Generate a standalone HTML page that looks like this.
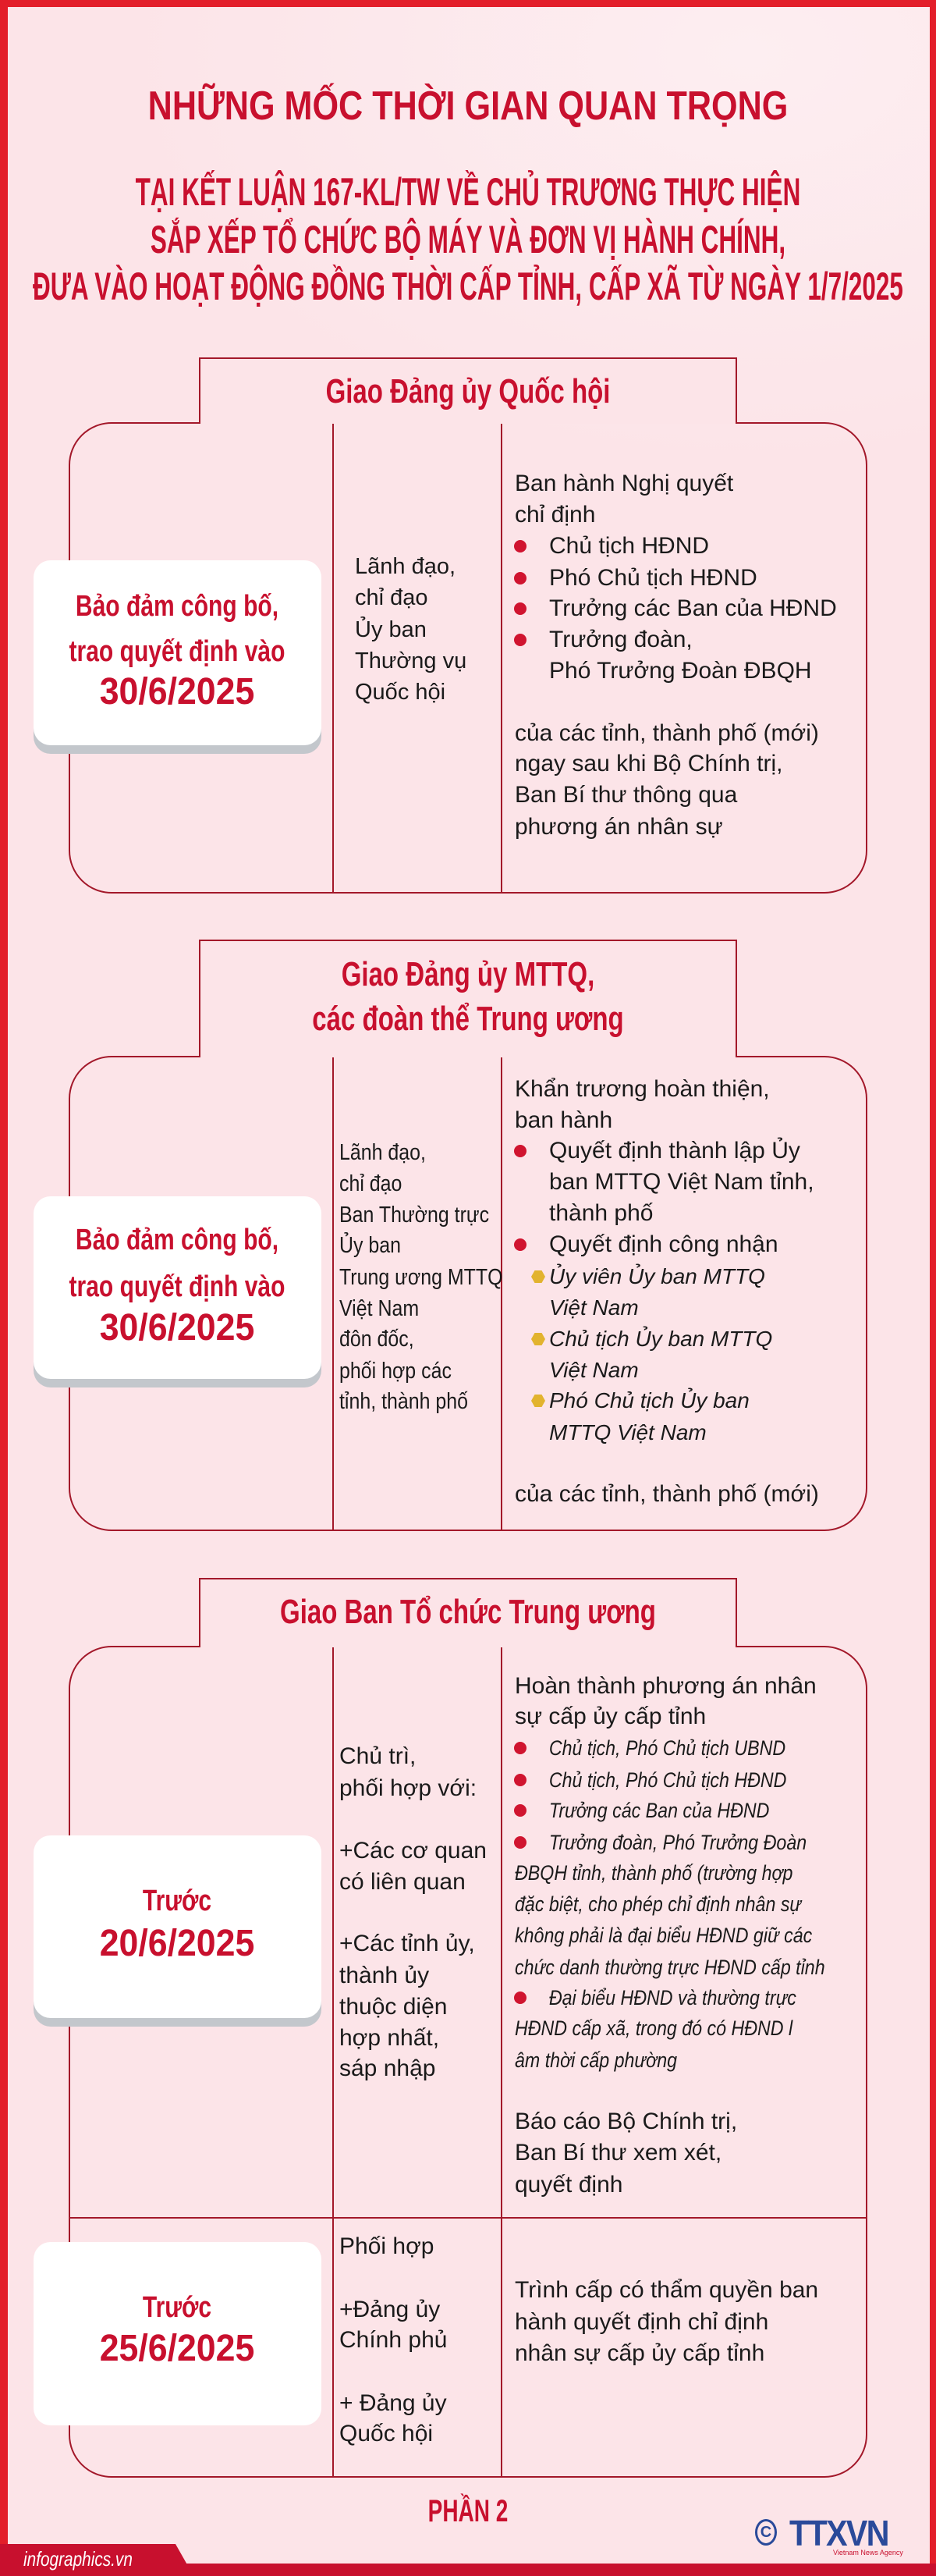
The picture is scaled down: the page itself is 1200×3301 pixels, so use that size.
<!DOCTYPE html>
<html><head><meta charset="utf-8">
<style>
*{margin:0;padding:0;box-sizing:border-box}
body{width:1200px;height:3301px;position:relative;overflow:hidden;background:#fce4e8;font-family:"Liberation Sans",sans-serif;color:#1a1a1a}
.bg{position:absolute;left:0;top:0;width:1200px;height:700px;background:radial-gradient(ellipse at 80% 10%,#fdeef1 0%,rgba(252,228,232,0) 60%)}
.frame{position:absolute;left:0;top:0;width:1200px;height:3301px;border-left:10px solid #e31e2a;border-right:8px solid #e31e2a;border-top:9px solid #e31e2a}
.ab{position:absolute;white-space:nowrap}
.c{position:absolute;white-space:nowrap;transform-origin:0 0}
.red{color:#c8102e;font-weight:bold}
.hdr{position:absolute;left:255px;width:690px;border:2px solid #a3182a;border-bottom:none;background:#fce4e8}
.box{position:absolute;left:88px;width:1024px;border:2px solid #a3182a;border-radius:55px}
.vl{position:absolute;width:2px;background:#a3182a}
.card{position:absolute;left:43px;width:369px;background:#fff;border-radius:22px}
.sh{box-shadow:0 11px 0 #c3c7cc}
.t{position:absolute;white-space:nowrap;font-size:30px;line-height:40px}
.dot{position:absolute;width:16px;height:16px;border-radius:50%;background:#d0142f}
.hex{position:absolute;width:18px;height:16px;background:#e2b32e;clip-path:polygon(25% 0,75% 0,100% 50%,75% 100%,25% 100%,0 50%)}
.it{font-style:italic}
</style></head><body>
<div class="bg"></div>

<!-- Titles -->
<div class="c red" style="left:600px;top:104px;font-size:52px;line-height:64px;transform:scaleX(0.83) translateX(-50%)">NHỮNG MỐC THỜI GIAN QUAN TRỌNG</div>
<div class="c red" style="left:600px;top:216px;font-size:50px;line-height:60px;transform:scaleX(0.63) translateX(-50%)">TẠI KẾT LUẬN 167-KL/TW VỀ CHỦ TRƯƠNG THỰC HIỆN</div>
<div class="c red" style="left:600px;top:277px;font-size:50px;line-height:60px;transform:scaleX(0.63) translateX(-50%)">SẮP XẾP TỔ CHỨC BỘ MÁY VÀ ĐƠN VỊ HÀNH CHÍNH,</div>
<div class="c red" style="left:600px;top:337px;font-size:50px;line-height:60px;transform:scaleX(0.63) translateX(-50%)">ĐƯA VÀO HOẠT ĐỘNG ĐỒNG THỜI CẤP TỈNH, CẤP XÃ TỪ NGÀY 1/7/2025</div>

<!-- Section 1 -->
<div class="box" style="top:541px;height:604px"></div>
<div class="vl" style="left:426px;top:541px;height:604px"></div>
<div class="vl" style="left:642px;top:541px;height:604px"></div>
<div class="hdr" style="top:458px;height:85px"></div>
<div class="c red" style="left:600px;top:474px;font-size:44px;line-height:56px;transform:scaleX(0.75) translateX(-50%)">Giao Đảng ủy Quốc hội</div>

<div class="card sh" style="top:718px;height:237px"></div>
<div class="c red" style="left:227px;top:754px;font-size:38px;line-height:46px;transform:scaleX(0.79) translateX(-50%)">Bảo đảm công bố,</div>
<div class="c red" style="left:227px;top:812px;font-size:38px;line-height:46px;transform:scaleX(0.79) translateX(-50%)">trao quyết định vào</div>
<div class="c red" style="left:227px;top:858px;font-size:48px;line-height:58px;transform:scaleX(0.93) translateX(-50%)">30/6/2025</div>

<div class="t" style="left:455px;top:706px;font-size:29px">Lãnh đạo,</div>
<div class="t" style="left:455px;top:746px;font-size:29px">chỉ đạo</div>
<div class="t" style="left:455px;top:787px;font-size:29px">Ủy ban</div>
<div class="t" style="left:455px;top:827px;font-size:29px">Thường vụ</div>
<div class="t" style="left:455px;top:867px;font-size:29px">Quốc hội</div>

<div class="t" style="left:660px;top:600px">Ban hành Nghị quyết</div>
<div class="t" style="left:660px;top:640px">chỉ định</div>
<div class="dot" style="left:659px;top:692px"></div><div class="t" style="left:704px;top:680px">Chủ tịch HĐND</div>
<div class="dot" style="left:659px;top:733px"></div><div class="t" style="left:704px;top:721px">Phó Chủ tịch HĐND</div>
<div class="dot" style="left:659px;top:772px"></div><div class="t" style="left:704px;top:760px">Trưởng các Ban của HĐND</div>
<div class="dot" style="left:659px;top:812px"></div><div class="t" style="left:704px;top:800px">Trưởng đoàn,</div>
<div class="t" style="left:704px;top:840px">Phó Trưởng Đoàn ĐBQH</div>
<div class="t" style="left:660px;top:920px">của các tỉnh, thành phố (mới)</div>
<div class="t" style="left:660px;top:959px">ngay sau khi Bộ Chính trị,</div>
<div class="t" style="left:660px;top:999px">Ban Bí thư thông qua</div>
<div class="t" style="left:660px;top:1040px">phương án nhân sự</div>

<!-- Section 2 -->
<div class="box" style="top:1353px;height:609px"></div>
<div class="vl" style="left:426px;top:1353px;height:609px"></div>
<div class="vl" style="left:642px;top:1353px;height:609px"></div>
<div class="hdr" style="top:1204px;height:151px"></div>
<div class="c red" style="left:600px;top:1221px;font-size:44px;line-height:56px;transform:scaleX(0.75) translateX(-50%)">Giao Đảng ủy MTTQ,</div>
<div class="c red" style="left:600px;top:1278px;font-size:44px;line-height:56px;transform:scaleX(0.75) translateX(-50%)">các đoàn thể Trung ương</div>

<div class="card sh" style="top:1533px;height:234px"></div>
<div class="c red" style="left:227px;top:1566px;font-size:38px;line-height:46px;transform:scaleX(0.79) translateX(-50%)">Bảo đảm công bố,</div>
<div class="c red" style="left:227px;top:1626px;font-size:38px;line-height:46px;transform:scaleX(0.79) translateX(-50%)">trao quyết định vào</div>
<div class="c red" style="left:227px;top:1673px;font-size:48px;line-height:58px;transform:scaleX(0.93) translateX(-50%)">30/6/2025</div>

<div style="position:absolute;left:435px;top:0;transform-origin:0 0;transform:scaleX(0.86)">
<div class="t" style="left:0;top:1457px;font-size:29px">Lãnh đạo,</div>
<div class="t" style="left:0;top:1497px;font-size:29px">chỉ đạo</div>
<div class="t" style="left:0;top:1537px;font-size:29px">Ban Thường trực</div>
<div class="t" style="left:0;top:1576px;font-size:29px">Ủy ban</div>
<div class="t" style="left:0;top:1617px;font-size:29px">Trung ương MTTQ</div>
<div class="t" style="left:0;top:1657px;font-size:29px">Việt Nam</div>
<div class="t" style="left:0;top:1696px;font-size:29px">đôn đốc,</div>
<div class="t" style="left:0;top:1737px;font-size:29px">phối hợp các</div>
<div class="t" style="left:0;top:1776px;font-size:29px">tỉnh, thành phố</div>
</div>

<div class="t" style="left:660px;top:1376px">Khẩn trương hoàn thiện,</div>
<div class="t" style="left:660px;top:1416px">ban hành</div>
<div class="dot" style="left:659px;top:1467px"></div><div class="t" style="left:704px;top:1455px">Quyết định thành lập Ủy</div>
<div class="t" style="left:704px;top:1495px">ban MTTQ Việt Nam tỉnh,</div>
<div class="t" style="left:704px;top:1535px">thành phố</div>
<div class="dot" style="left:659px;top:1587px"></div><div class="t" style="left:704px;top:1575px">Quyết định công nhận</div>
<div class="hex" style="left:681px;top:1628px"></div><div class="t it" style="left:704px;top:1616px;font-size:28px">Ủy viên Ủy ban MTTQ</div>
<div class="t it" style="left:704px;top:1656px;font-size:28px">Việt Nam</div>
<div class="hex" style="left:681px;top:1708px"></div><div class="t it" style="left:704px;top:1696px;font-size:28px">Chủ tịch Ủy ban MTTQ</div>
<div class="t it" style="left:704px;top:1736px;font-size:28px">Việt Nam</div>
<div class="hex" style="left:681px;top:1787px"></div><div class="t it" style="left:704px;top:1775px;font-size:28px">Phó Chủ tịch Ủy ban</div>
<div class="t it" style="left:704px;top:1816px;font-size:28px">MTTQ Việt Nam</div>
<div class="t" style="left:660px;top:1895px">của các tỉnh, thành phố (mới)</div>

<!-- Section 3 -->
<div class="box" style="top:2109px;height:1066px"></div>
<div class="vl" style="left:426px;top:2109px;height:1066px"></div>
<div class="vl" style="left:642px;top:2109px;height:1066px"></div>
<div style="position:absolute;left:88px;top:2841px;width:1024px;height:2px;background:#a3182a"></div>
<div class="hdr" style="top:2022px;height:89px"></div>
<div class="c red" style="left:600px;top:2038px;font-size:44px;line-height:56px;transform:scaleX(0.75) translateX(-50%)">Giao Ban Tổ chức Trung ương</div>

<div class="card sh" style="top:2352px;height:234px"></div>
<div class="c red" style="left:227px;top:2413px;font-size:38px;line-height:46px;transform:scaleX(0.79) translateX(-50%)">Trước</div>
<div class="c red" style="left:227px;top:2462px;font-size:48px;line-height:58px;transform:scaleX(0.93) translateX(-50%)">20/6/2025</div>

<div class="card" style="top:2873px;height:235px"></div>
<div class="c red" style="left:227px;top:2934px;font-size:38px;line-height:46px;transform:scaleX(0.79) translateX(-50%)">Trước</div>
<div class="c red" style="left:227px;top:2981px;font-size:48px;line-height:58px;transform:scaleX(0.93) translateX(-50%)">25/6/2025</div>

<div class="t" style="left:435px;top:2231px">Chủ trì,</div>
<div class="t" style="left:435px;top:2272px">phối hợp với:</div>
<div class="t" style="left:435px;top:2352px">+Các cơ quan</div>
<div class="t" style="left:435px;top:2392px">có liên quan</div>
<div class="t" style="left:435px;top:2471px">+Các tỉnh ủy,</div>
<div class="t" style="left:435px;top:2512px">thành ủy</div>
<div class="t" style="left:435px;top:2552px">thuộc diện</div>
<div class="t" style="left:435px;top:2592px">hợp nhất,</div>
<div class="t" style="left:435px;top:2631px">sáp nhập</div>

<div class="t" style="left:660px;top:2141px">Hoàn thành phương án nhân</div>
<div class="t" style="left:660px;top:2180px">sự cấp ủy cấp tỉnh</div>
<div style="position:absolute;left:660px;top:0;transform-origin:0 0;transform:scaleX(0.86)">
<div class="t it" style="left:51px;top:2220px;font-size:27px">Chủ tịch, Phó Chủ tịch UBND</div>
<div class="t it" style="left:51px;top:2261px;font-size:27px">Chủ tịch, Phó Chủ tịch HĐND</div>
<div class="t it" style="left:51px;top:2300px;font-size:27px">Trưởng các Ban của HĐND</div>
<div class="t it" style="left:51px;top:2341px;font-size:27px">Trưởng đoàn, Phó Trưởng Đoàn</div>
<div class="t it" style="left:0;top:2380px;font-size:27px">ĐBQH tỉnh, thành phố (trường hợp</div>
<div class="t it" style="left:0;top:2420px;font-size:27px">đặc biệt, cho phép chỉ định nhân sự</div>
<div class="t it" style="left:0;top:2460px;font-size:27px">không phải là đại biểu HĐND giữ các</div>
<div class="t it" style="left:0;top:2501px;font-size:27px">chức danh thường trực HĐND cấp tỉnh</div>
<div class="t it" style="left:51px;top:2540px;font-size:27px">Đại biểu HĐND và thường trực</div>
<div class="t it" style="left:0;top:2579px;font-size:27px">HĐND cấp xã, trong đó có HĐND l</div>
<div class="t it" style="left:0;top:2620px;font-size:27px">âm thời cấp phường</div>
</div>
<div class="dot" style="left:659px;top:2232px"></div>
<div class="dot" style="left:659px;top:2273px"></div>
<div class="dot" style="left:659px;top:2312px"></div>
<div class="dot" style="left:659px;top:2353px"></div>
<div class="dot" style="left:659px;top:2552px"></div>
<div class="t" style="left:660px;top:2699px">Báo cáo Bộ Chính trị,</div>
<div class="t" style="left:660px;top:2739px">Ban Bí thư xem xét,</div>
<div class="t" style="left:660px;top:2780px">quyết định</div>

<div class="t" style="left:435px;top:2859px">Phối hợp</div>
<div class="t" style="left:435px;top:2940px">+Đảng ủy</div>
<div class="t" style="left:435px;top:2979px">Chính phủ</div>
<div class="t" style="left:435px;top:3060px">+ Đảng ủy</div>
<div class="t" style="left:435px;top:3099px">Quốc hội</div>

<div class="t" style="left:660px;top:2915px">Trình cấp có thẩm quyền ban</div>
<div class="t" style="left:660px;top:2956px">hành quyết định chỉ định</div>
<div class="t" style="left:660px;top:2996px">nhân sự cấp ủy cấp tỉnh</div>

<!-- Footer -->
<div class="c red" style="left:600px;top:3194px;font-size:40px;line-height:48px;transform:scaleX(0.7) translateX(-50%)">PHẦN 2</div>
<div class="ab" style="left:968px;top:3228px;width:28px;height:34px;border:3px solid #2a4a9a;border-radius:50%;color:#2a4a9a;font-size:20px;line-height:28px;text-align:center;font-weight:bold">C</div>
<div class="ab" style="left:1012px;top:3222px;font-size:46px;line-height:48px;font-weight:bold;color:#2a4a9a;letter-spacing:-2px;transform-origin:0 0;transform:scaleX(0.9)">TTXVN</div>
<div class="ab" style="left:1068px;top:3266px;font-size:9px;color:#c8102e">Vietnam News Agency</div>

<div class="frame"></div>
<div style="position:absolute;left:0;top:3285px;width:1200px;height:16px;background:#c8102e"></div>
<div style="position:absolute;left:0;top:3260px;width:242px;height:30px;background:#c8102e;clip-path:polygon(0 0,225px 0,242px 100%,0 100%)"></div>
<div class="ab it" style="left:30px;top:3262px;font-size:26px;line-height:34px;color:#fff;transform-origin:0 0;transform:scaleX(0.8)">infographics.vn</div>
</body></html>
